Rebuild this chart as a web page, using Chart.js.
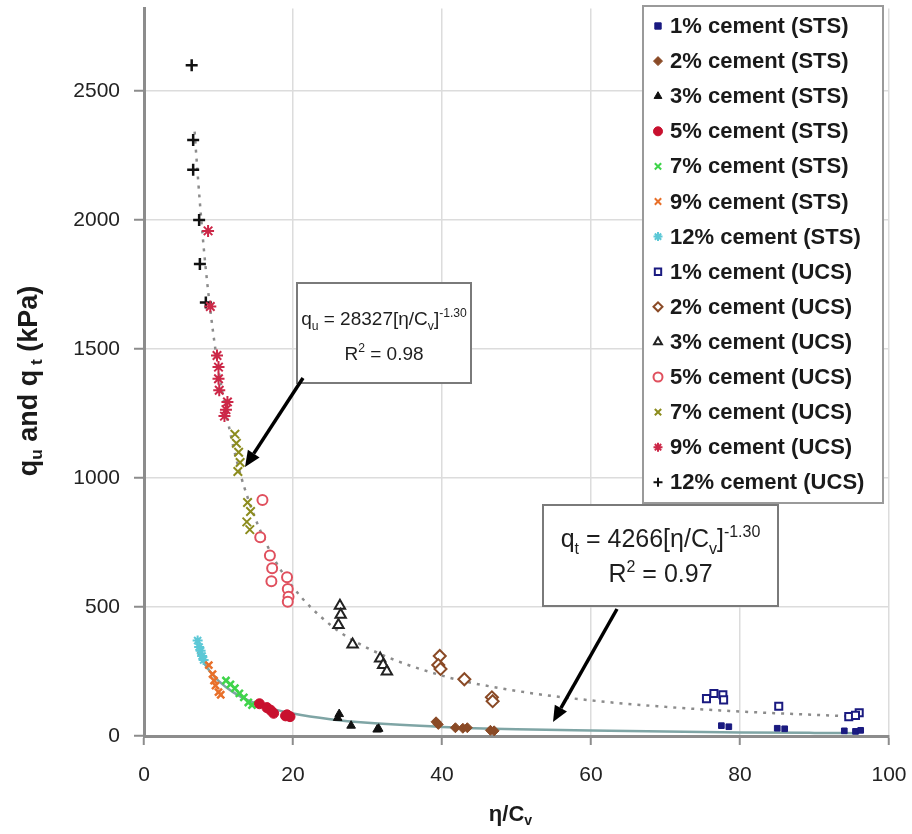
<!DOCTYPE html>
<html>
<head>
<meta charset="utf-8">
<script src="https://cdn.jsdelivr.net/npm/chart.js@4.4.0/dist/chart.umd.min.js"></script>
<style>
  html, body { margin: 0; padding: 0; background: #fff; }
  #wrap { width: 912px; height: 834px; }
</style>
</head>
<body>
<div id="wrap"><canvas id="c" width="912" height="834"></canvas></div>
<script>
// values: [eta/Cv, q (kPa)]
const sts1 = [[77.5, 40], [78.5, 36], [85.0, 30], [86.0, 28], [94.0, 20], [95.5, 18], [96.2, 22]];
const sts2 = [[39.2, 55], [39.5, 45], [41.8, 32], [42.8, 30], [43.4, 32], [46.5, 22], [47.0, 20]];
const sts3 = [[26.2, 85], [26.0, 70], [27.8, 40], [31.5, 28], [31.3, 25]];
const sts5 = [[15.5, 125], [16.5, 110], [17.0, 100], [17.4, 88], [19.0, 78], [19.6, 75], [19.2, 82]];
const sts7 = [[11.0, 215], [11.6, 200], [12.2, 185], [12.8, 165], [13.4, 150], [14.0, 130], [14.5, 120]];
const sts9 = [[8.7, 275], [9.2, 240], [9.4, 215], [9.6, 195], [10.0, 170], [10.3, 160]];
const sts12 = [[7.2, 370], [7.4, 345], [7.6, 330], [7.8, 310], [8.0, 295]];

const ucs1 = [[75.5, 145], [76.5, 165], [77.7, 160], [77.8, 140], [85.2, 115], [94.6, 75], [96.0, 90], [95.5, 80]];
const ucs2 = [[39.7, 310], [39.5, 275], [39.8, 260], [43.0, 220], [46.7, 150], [46.8, 135]];
const ucs3 = [[26.3, 505], [26.4, 470], [26.1, 430], [28.0, 355], [31.7, 300], [32.1, 275], [32.6, 250]];
const ucs5 = [[15.9, 915], [15.6, 770], [16.9, 700], [17.2, 650], [17.1, 600], [19.2, 615], [19.3, 570], [19.4, 540], [19.3, 520]];
const ucs7 = [[12.2, 1170], [12.4, 1135], [12.7, 1100], [12.9, 1060], [12.6, 1025], [13.9, 905], [14.3, 870], [13.8, 830], [14.2, 800]];
const ucs9 = [[8.6, 1958], [8.9, 1665], [9.8, 1475], [10.0, 1430], [10.0, 1385], [10.1, 1340], [11.2, 1295], [11.0, 1265], [10.8, 1240]];
const ucs12 = [[6.4, 2600], [6.6, 2310], [6.6, 2195], [7.4, 2000], [7.5, 1830], [8.3, 1680]];

// trend curves
const fitUcsX = [6.8, 7, 8, 9, 10, 12, 14, 17, 20, 25, 30, 40, 50, 60, 70, 80, 90, 96];
const fitUcsY = [2343, 2258, 1898, 1628, 1420, 1120, 917, 712, 577, 431, 341, 234, 175, 138, 113, 95, 82, 75];
const fitStsX = [7.2, 8, 9, 10, 12, 14, 17, 20, 25, 30, 40, 50, 60, 70, 80, 90, 96];
const fitStsY = [328, 286, 245, 214, 169, 138, 107, 87, 65, 51, 35, 26, 21, 17, 14, 12, 11];

const xTicks = [0, 20, 40, 60, 80, 100];
const yTicks = [0, 500, 1000, 1500, 2000, 2500];

const FONT = '"Liberation Sans", Arial, Helvetica, sans-serif';

// marker look for each series, in legend order
const markers = [
    { label: '1% cement (STS)', data: sts1, style: 'rect', r: 4, fill: '#1a1a80', stroke: '#1a1a80', bw: 1 },
    { label: '2% cement (STS)', data: sts2, style: 'rectRot', r: 5, fill: '#8a4a26', stroke: '#8a4a26', bw: 1 },
    { label: '3% cement (STS)', data: sts3, style: 'triangle', r: 5, fill: '#111', stroke: '#111', bw: 1 },
    { label: '5% cement (STS)', data: sts5, style: 'circle', r: 5, fill: '#c8102e', stroke: '#c8102e', bw: 1 },
    { label: '7% cement (STS)', data: sts7, style: 'crossRot', r: 5, fill: '#3fd44a', stroke: '#3fd44a', bw: 2.5 },
    { label: '9% cement (STS)', data: sts9, style: 'crossRot', r: 5, fill: '#e8702a', stroke: '#e8702a', bw: 2.5 },
    { label: '12% cement (STS)', data: sts12, style: 'star', r: 5, fill: '#5cc8d6', stroke: '#5cc8d6', bw: 2 },
    { label: '1% cement (UCS)', data: ucs1, style: 'rect', r: 5, fill: '#fff', stroke: '#1a1a80', bw: 2 },
    { label: '2% cement (UCS)', data: ucs2, style: 'rectRot', r: 6, fill: '#fff', stroke: '#8a4a26', bw: 2 },
    { label: '3% cement (UCS)', data: ucs3, style: 'triangle', r: 6, fill: '#fff', stroke: '#222', bw: 2 },
    { label: '5% cement (UCS)', data: ucs5, style: 'circle', r: 5, fill: '#fff', stroke: '#e0505e', bw: 2 },
    { label: '7% cement (UCS)', data: ucs7, style: 'crossRot', r: 6, fill: '#8c8c1e', stroke: '#8c8c1e', bw: 2 },
    { label: '9% cement (UCS)', data: ucs9, style: 'star', r: 6, fill: '#cc2848', stroke: '#cc2848', bw: 2 },
    { label: '12% cement (UCS)', data: ucs12, style: 'cross', r: 6, fill: '#111', stroke: '#111', bw: 2.5 }
];

const datasets = markers.map(m => ({
    label: m.label,
    data: m.data.map(p => ({ x: p[0], y: p[1] })),
    pointStyle: m.style,
    pointRadius: m.r,
    pointBackgroundColor: m.fill,
    pointBorderColor: m.stroke,
    pointBorderWidth: m.bw,
    showLine: false,
    order: 1
}));

datasets.push({
    label: 'fit UCS',
    data: fitUcsX.map((x, i) => ({ x: x, y: fitUcsY[i] })),
    showLine: true,
    pointRadius: 0,
    borderColor: '#8c8c8c',
    borderWidth: 2.5,
    borderDash: [3, 6],
    cubicInterpolationMode: 'monotone',
    order: 5
});
datasets.push({
    label: 'fit STS',
    data: fitStsX.map((x, i) => ({ x: x, y: fitStsY[i] })),
    showLine: true,
    pointRadius: 0,
    borderColor: '#7fa5a5',
    borderWidth: 2.5,
    cubicInterpolationMode: 'monotone',
    order: 5
});

// text with sub/superscripts: segments [text, 'sub'|'sup'|'']
function richWidth(ctx, segs, size, weight) {
    let w = 0;
    segs.forEach(s => {
        const sz = s[1] ? size * 0.64 : size;
        ctx.font = weight + ' ' + sz + 'px ' + FONT;
        w += ctx.measureText(s[0]).width;
    });
    return w;
}

function drawRich(ctx, segs, x, y, size, weight) {
    segs.forEach(s => {
        const sz = s[1] ? size * 0.64 : size;
        let dy = 0;
        if (s[1] === 'sub') dy = size * 0.28;
        if (s[1] === 'sup') dy = -size * 0.42;
        ctx.font = weight + ' ' + sz + 'px ' + FONT;
        ctx.fillText(s[0], x, y + dy);
        x += ctx.measureText(s[0]).width;
    });
}

function drawArrow(ctx, x1, y1, x2, y2) {
    const a = Math.atan2(y2 - y1, x2 - x1);
    const len = 16, half = 7;
    const bx = x2 - len * Math.cos(a), by = y2 - len * Math.sin(a);
    ctx.strokeStyle = '#000';
    ctx.lineWidth = 3.5;
    ctx.beginPath();
    ctx.moveTo(x1, y1);
    ctx.lineTo(bx, by);
    ctx.stroke();
    ctx.fillStyle = '#000';
    ctx.beginPath();
    ctx.moveTo(x2, y2);
    ctx.lineTo(bx + half * Math.sin(a), by - half * Math.cos(a));
    ctx.lineTo(bx - half * Math.sin(a), by + half * Math.cos(a));
    ctx.closePath();
    ctx.fill();
}

const notes = [
    {
        left: 297, top: 283, width: 174, height: 100, size: 19,
        line1: [['q', ''], ['u', 'sub'], [' = 28327[\u03b7/C', ''], ['v', 'sub'], [']', ''], ['-1.30', 'sup']],
        line2: [['R', ''], ['2', 'sup'], [' = 0.98', '']],
        from: [303, 378], to: [245, 467]
    },
    {
        left: 543, top: 505, width: 235, height: 101, size: 25,
        line1: [['q', ''], ['t', 'sub'], [' = 4266[\u03b7/C', ''], ['v', 'sub'], [']', ''], ['-1.30', 'sup']],
        line2: [['R', ''], ['2', 'sup'], [' = 0.97', '']],
        from: [617, 609], to: [553, 722]
    }
];

const decorPlugin = {
    id: 'decor',
    afterDraw(chart) {
        const ctx = chart.ctx;
        const area = chart.chartArea;
        ctx.save();

        // annotation boxes with arrows
        notes.forEach(n => {
            const w1 = richWidth(ctx, n.line1, n.size, 'normal');
            const w2 = richWidth(ctx, n.line2, n.size, 'normal');
            ctx.fillStyle = '#fff';
            ctx.fillRect(n.left, n.top, n.width, n.height);
            ctx.strokeStyle = '#7a7a7a';
            ctx.lineWidth = 2;
            ctx.strokeRect(n.left, n.top, n.width, n.height);
            ctx.fillStyle = '#1e1e1e';
            ctx.textBaseline = 'alphabetic';
            ctx.textAlign = 'left';
            drawRich(ctx, n.line1, n.left + (n.width - w1) / 2, n.top + 42, n.size, 'normal');
            drawRich(ctx, n.line2, n.left + (n.width - w2) / 2, n.top + 77, n.size, 'normal');
            drawArrow(ctx, n.from[0], n.from[1], n.to[0], n.to[1]);
        });

        // legend box
        const lx = 643, ly = 6, lw = 240, lh = 497;
        ctx.fillStyle = '#fff';
        ctx.fillRect(lx, ly, lw, lh);
        ctx.strokeStyle = '#9a9a9a';
        ctx.lineWidth = 2;
        ctx.strokeRect(lx, ly, lw, lh);
        markers.forEach((m, i) => {
            const y = 26 + 35.1 * i;
            ctx.fillStyle = m.fill;
            ctx.strokeStyle = m.stroke;
            ctx.lineWidth = Math.min(m.bw, 2);
            Chart.helpers.drawPoint(ctx, { pointStyle: m.style, rotation: 0, radius: 4.5, borderWidth: Math.min(m.bw, 2) }, 658, y);
            ctx.fillStyle = '#1a1a1a';
            ctx.font = 'bold 22px ' + FONT;
            ctx.textAlign = 'left';
            ctx.textBaseline = 'middle';
            ctx.fillText(m.label, 670, y + 1);
        });

        // axis titles
        ctx.fillStyle = '#1a1a1a';
        ctx.textBaseline = 'middle';
        const yt = [['q', ''], ['u', 'sub'], [' and q', ''], [' t', 'sub'], [' (kPa)', '']];
        const ytw = richWidth(ctx, yt, 27, 'bold');
        ctx.save();
        ctx.translate(30, 381);
        ctx.rotate(-Math.PI / 2);
        drawRich(ctx, yt, -ytw / 2, 0, 27, 'bold');
        ctx.restore();
        const xt = [['\u03b7/C', ''], ['v', 'sub']];
        const xtw = richWidth(ctx, xt, 22, 'bold');
        drawRich(ctx, xt, (area.left + area.right) / 2 - xtw / 2 - 6, 815, 22, 'bold');

        ctx.restore();
    }
};

new Chart(document.getElementById('c'), {
    type: 'scatter',
    data: { datasets: datasets },
    options: {
        responsive: false,
        animation: false,
        layout: { padding: { top: 5, right: 23, left: 0, bottom: 0 } },
        plugins: {
            legend: { display: false },
            tooltip: { enabled: false }
        },
        scales: {
            x: {
                type: 'linear',
                min: xTicks[0],
                max: xTicks[xTicks.length - 1],
                afterBuildTicks(s) { s.ticks = xTicks.map(v => ({ value: v })); },
                afterFit(s) { s.height = 98; s.paddingLeft = 0; s.paddingRight = 0; },
                ticks: { color: '#222', font: { family: FONT, size: 21 }, padding: 18, callback: v => String(v) },
                grid: { color: '#dcdcdc', lineWidth: 1.5, tickLength: 9, tickColor: '#8c8c8c', tickWidth: 2 },
                border: { color: '#8c8c8c', width: 3 }
            },
            y: {
                type: 'linear',
                min: 0,
                max: 2820,
                afterBuildTicks(s) { s.ticks = yTicks.map(v => ({ value: v })); },
                afterFit(s) { s.width = 144; s.paddingTop = 0; s.paddingBottom = 0; },
                ticks: { color: '#222', font: { family: FONT, size: 21 }, padding: 14, callback: v => String(v) },
                grid: { color: '#dcdcdc', lineWidth: 1.5, tickLength: 10, tickColor: '#8c8c8c', tickWidth: 2 },
                border: { color: '#8c8c8c', width: 3 }
            }
        }
    },
    plugins: [decorPlugin]
});
</script>
</body>
</html>
